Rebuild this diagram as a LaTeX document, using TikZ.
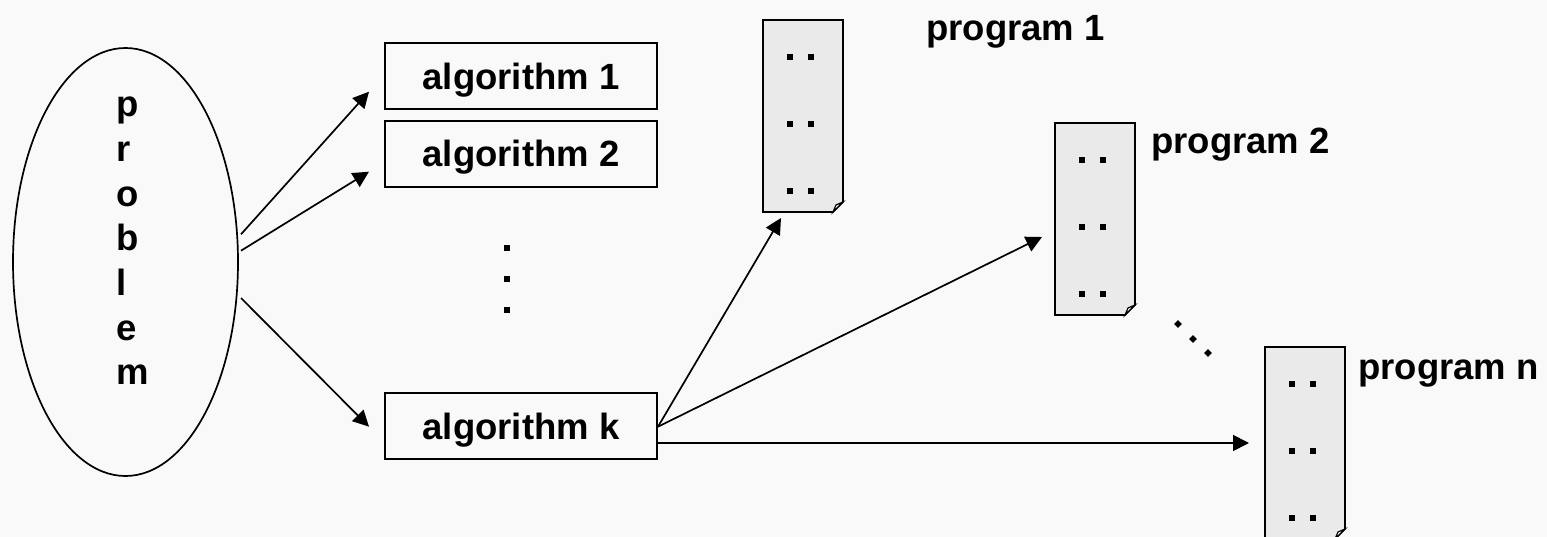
\documentclass[tikz,border=0pt]{standalone}
\usepackage{fontspec}
\setmainfont{Liberation Sans}
\usetikzlibrary{arrows.meta,shapes.geometric}
\tikzset{
  lbl/.style={inner sep=0pt,font=\fontsize{36.5}{44.7}\selectfont\bfseries,text=black},
  algbox/.style={draw=black,line width=1.7pt,minimum width=272pt,minimum height=66pt,inner sep=0pt,lbl,text height=26.4pt,text depth=0pt},
  conn/.style={draw=black,line width=1.7pt,-{Triangle[length=16pt,width=16pt]}},
  dotsq/.style={fill=black,draw=none,minimum size=5.5pt,inner sep=0pt,rectangle},
  bigdot/.style={fill=black,draw=none,minimum size=6.5pt,inner sep=0pt,rectangle},
  dotdia/.style={fill=black,draw=none,minimum size=5.5pt,inner sep=0pt,rectangle,rotate=45},
}
\definecolor{bggray}{HTML}{F9F9F9}
\definecolor{docgray}{HTML}{EAEAEA}
\newcommand{\progdoc}[3]{% name, left x, top y
  \fill[fill=docgray] (#2,#3) -- ++(80,0) -- ++(0,182) -- ++(-10,10) -- ++(-70,0) -- cycle;
  \draw[line width=1.7pt,line join=miter] (#2,#3) -- ++(80,0) -- ++(0,182) -- ++(-10,10) -- ++(-70,0) -- cycle;
  \filldraw[fill=white,draw=black,line width=1.2pt] (#2+70,#3+192) -- ++(3,-7) -- ++(7,-3) -- cycle;
  \foreach \r/\yy in {a/37,b/104,c/171}{
    \node[dotsq] (#1\r l) at (#2+27,#3+\yy) {};
    \node[dotsq] (#1\r r) at (#2+48,#3+\yy) {};
  }
}
\begin{document}
\begin{tikzpicture}[x=1pt,y=-1pt]
\path[use as bounding box,fill=bggray] (0,0) rectangle (1547,537);
\begin{scope}
\clip (0,0) rectangle (1547,537);
\node[draw=black,line width=1.7pt,ellipse,minimum width=225pt,minimum height=428pt,inner sep=0pt] (problem) at (125.5,262) {};
\node[lbl,align=left,anchor=south west] (ptext) at (116.5,385) {p\\r\\o\\b\\l\\e\\m};
\node[algbox] (a1) at (521,76) {algorithm 1};
\node[algbox] (a2) at (521,153.7) {algorithm 2};
\node[algbox] (ak) at (521,426) {algorithm k};
\progdoc{d1}{763}{20}
\progdoc{d2}{1055}{123}
\progdoc{d3}{1265}{347}
\end{scope}
\node[lbl,anchor=base west] (p1) at (926,41) {program 1};
\node[lbl,anchor=base west] (p2) at (1151,154) {program 2};
\node[lbl,anchor=base west] (p3) at (1358,379) {program n};
\foreach \n/\yy in {v1/248,v2/279,v3/310}{\node[bigdot] (\n) at (507,\yy) {};}
\foreach \n/\xx/\yy in {g1/1178/324,g2/1193/339,g3/1208/353}{\node[dotdia] (\n) at (\xx,\yy) {};}
\coordinate (s1) at (241,234.3);
\coordinate (s2) at (241,250.7);
\coordinate (s3) at (241,298);
\coordinate (t1) at (369,91.7);
\coordinate (t2) at (369,171.7);
\coordinate (t3) at (369,426.7);
\coordinate (k0) at (658,426.7);
\coordinate (k1) at (658,443);
\coordinate (t4) at (781,218);
\coordinate (t5) at (1042,237);
\coordinate (t6) at (1249,443);
\draw[conn] (s1) -- (t1);
\draw[conn] (s2) -- (t2);
\draw[conn] (s3) -- (t3);
\draw[conn] (k0) -- (t4);
\draw[conn] (k0) -- (t5);
\draw[conn] (k1) -- (t6);
\end{tikzpicture}
\end{document}
